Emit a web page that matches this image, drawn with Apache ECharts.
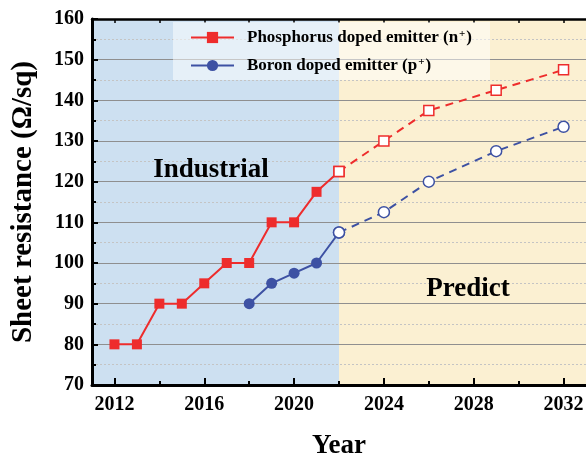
<!DOCTYPE html>
<html>
<head>
<meta charset="utf-8">
<script src="https://cdn.jsdelivr.net/npm/echarts@6/dist/echarts.min.js"></script>
<style>
  html, body { margin: 0; padding: 0; background: #fff; }
  #chart { width: 586px; height: 458px; }
</style>
</head>
<body>
<div id="chart"></div>
<script>
// Sheet resistance of phosphorus / boron doped emitters, industrial history and prediction
const phosActual = [[2012, 80], [2013, 80], [2014, 90], [2015, 90], [2016, 95], [2017, 100], [2018, 100], [2019, 110], [2020, 110], [2021, 117.5], [2022, 122.5]];
const phosPredict = [[2022, 122.5], [2024, 130], [2026, 137.5], [2029, 142.5], [2032, 147.5]];
const boronActual = [[2018, 90], [2019, 95], [2020, 97.5], [2021, 100], [2022, 107.5]];
const boronPredict = [[2022, 107.5], [2024, 112.5], [2026, 120], [2029, 127.5], [2032, 133.5]];

const xLabelYears = [2012, 2016, 2020, 2024, 2028, 2032];
const xMajorTicks = [2012, 2016, 2020, 2024, 2028, 2032];
const xMinorTicks = [2014, 2018, 2022, 2026, 2030];
const xTopTicks = [2012, 2014, 2016, 2018, 2020, 2022, 2024, 2026, 2028, 2030, 2032];
const regionIndustrial = [2011, 2022];
const regionPredict = [2022, 2033];

const RED = '#ee2c2c';
const BLUE = '#3d51a3';
const FONT = '"Liberation Serif", "Times New Roman", serif';

const NAME_P = 'Phosphorus doped emitter (n+)';
const NAME_B = 'Boron doped emitter (p+)';

// the last actual point (2022) starts the forecast and is drawn hollow
function hollowLast(data, color) {
  return data.map((d, i) => i === data.length - 1
    ? { value: d, itemStyle: { color: '#fff', borderColor: color, borderWidth: 1.5 } }
    : d);
}

const chart = echarts.init(document.getElementById('chart'), null, { renderer: 'canvas' });

const option = {
  animation: false,
  backgroundColor: '#fff',
  grid: { left: 92, right: 0, top: 19, bottom: 73, containLabel: false, outerBoundsMode: 'none' },
  legend: {
    data: [NAME_P, NAME_B],
    orient: 'vertical',
    left: 173,
    top: 22,
    padding: [7, 18, 6, 17],
    itemWidth: 43,
    itemHeight: 14,
    itemGap: 11,
    z: 6,
    backgroundColor: 'rgba(255,255,255,0.5)',
    formatter: function (name) {
      return name === NAME_P
        ? '{a|Phosphorus doped emitter (n}{s|+}{a|)}'
        : '{a|Boron doped emitter (p}{s|+}{a|)}';
    },
    textStyle: {
      padding: [0, 0, 0, 8],
      rich: {
        a: { fontFamily: FONT, fontWeight: 'bold', fontSize: 17, color: '#000' },
        s: { fontFamily: FONT, fontWeight: 'bold', fontSize: 11, color: '#000', verticalAlign: 'top', padding: [0, 1, 0, 1] }
      }
    }
  },
  xAxis: [
    {
      type: 'value', position: 'bottom', min: 2011, max: 2033, z: 3,
      name: 'Year', nameLocation: 'middle', nameGap: 48,
      nameTextStyle: { fontFamily: FONT, fontWeight: 'bold', fontSize: 27, color: '#000' },
      axisLine: { show: true, onZero: false, lineStyle: { color: '#000', width: 3 } },
      axisTick: { show: true, inside: true, length: 7, customValues: xMajorTicks, lineStyle: { color: '#000', width: 2 } },
      axisLabel: {
        customValues: xLabelYears, margin: 10, formatter: v => String(v),
        fontFamily: FONT, fontWeight: 'bold', fontSize: 20, color: '#000'
      },
      splitLine: { show: false }
    },
    {
      type: 'value', position: 'top', min: 2011, max: 2033, z: 3,
      axisLine: { show: true, onZero: false, lineStyle: { color: '#000', width: 2.5 } },
      axisTick: { show: true, inside: true, length: 4, customValues: xTopTicks, lineStyle: { color: '#000', width: 1.5 } },
      axisLabel: { show: false },
      splitLine: { show: false }
    },
    {
      type: 'value', position: 'bottom', min: 2011, max: 2033, z: 3,
      axisLine: { show: false },
      axisTick: { show: true, inside: true, length: 4, customValues: xMinorTicks, lineStyle: { color: '#000', width: 2 } },
      axisLabel: { show: false },
      splitLine: { show: false }
    }
  ],
  yAxis: {
    type: 'value', min: 70, max: 160, interval: 10, z: 3,
    name: 'Sheet resistance (Ω/sq)', nameLocation: 'middle', nameGap: 54,
    nameTextStyle: { fontFamily: FONT, fontWeight: 'bold', fontSize: 29, color: '#000' },
    axisLine: { show: true, onZero: false, lineStyle: { color: '#000', width: 3 } },
    axisTick: { show: true, inside: true, length: 6, lineStyle: { color: '#000', width: 2 } },
    minorTick: { show: true, splitNumber: 2, length: 4, lineStyle: { color: '#000', width: 2 } },
    axisLabel: { margin: 8, fontFamily: FONT, fontWeight: 'bold', fontSize: 20, color: '#000' },
    splitLine: { show: true, lineStyle: { color: '#8f8f8f', width: 1 } },
    minorSplitLine: { show: true, lineStyle: { color: '#c4c4c4', width: 1, type: [2, 2] } }
  },
  graphic: [
    { type: 'text', z: 10, style: { text: 'Industrial', x: 211, y: 170, align: 'center', verticalAlign: 'middle', font: 'bold 27px ' + FONT, fill: '#000' } },
    { type: 'text', z: 10, style: { text: 'Predict', x: 468, y: 289, align: 'center', verticalAlign: 'middle', font: 'bold 27px ' + FONT, fill: '#000' } }
  ],
  series: [
    {
      name: 'regions', type: 'line', data: [], z: 1, silent: true,
      markArea: {
        silent: true,
        data: [
          [{ xAxis: regionIndustrial[0], itemStyle: { color: '#cde0f1' } }, { xAxis: regionIndustrial[1] }],
          [{ xAxis: regionPredict[0], itemStyle: { color: '#fbf0d2' } }, { xAxis: regionPredict[1] }]
        ]
      }
    },
    {
      name: NAME_P, type: 'line', data: hollowLast(phosActual, RED), z: 5,
      symbol: 'rect', symbolSize: 10,
      lineStyle: { color: RED, width: 2 },
      itemStyle: { color: RED, borderColor: RED, borderWidth: 0 }
    },
    {
      name: 'P forecast', type: 'line', data: phosPredict, z: 4,
      symbol: 'rect', symbolSize: 10,
      lineStyle: { color: RED, width: 2, type: [8, 6] },
      itemStyle: { color: '#fff', borderColor: RED, borderWidth: 1.5 }
    },
    {
      name: NAME_B, type: 'line', data: hollowLast(boronActual, BLUE), z: 5,
      symbol: 'circle', symbolSize: 11,
      lineStyle: { color: BLUE, width: 2 },
      itemStyle: { color: BLUE, borderColor: BLUE, borderWidth: 0 }
    },
    {
      name: 'B forecast', type: 'line', data: boronPredict, z: 4,
      symbol: 'circle', symbolSize: 11,
      lineStyle: { color: BLUE, width: 2, type: [8, 6] },
      itemStyle: { color: '#fff', borderColor: BLUE, borderWidth: 1.5 }
    }
  ]
};

chart.setOption(option);
</script>
</body>
</html>
